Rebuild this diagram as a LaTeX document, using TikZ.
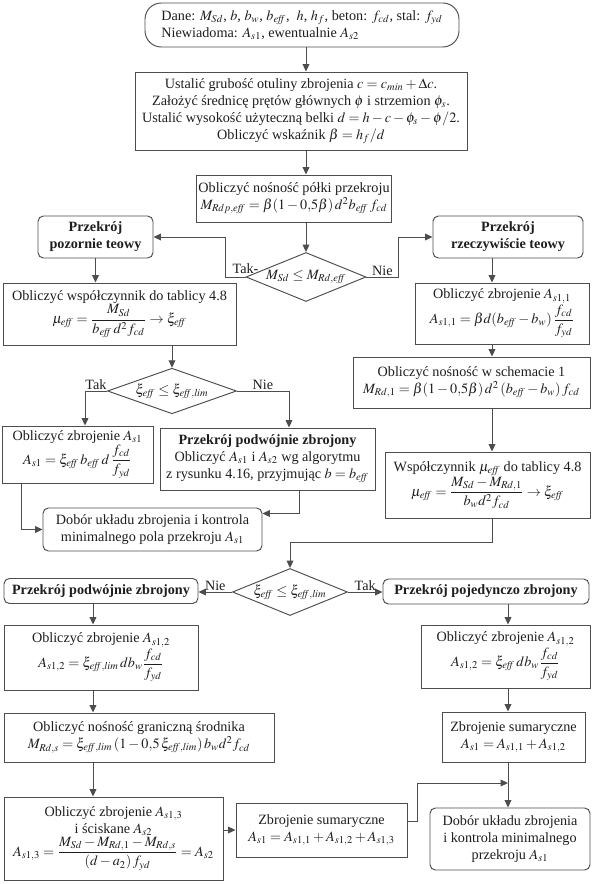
\documentclass[tikz,border=0pt]{standalone}
\usepackage{amsmath}
\usepackage{mathptmx}
\usepackage{fontspec}
\setmainfont{Liberation Serif}
\usepackage{xcolor}
\usepackage{tikz}
\usetikzlibrary{positioning, arrows.meta, shapes.geometric, calc}
\definecolor{linegray}{HTML}{4D4D4D}
\definecolor{textgray}{HTML}{1E1E1E}
\newcommand{\pxu}{0.026cm}
\newcommand{\eff}{\mathit{eff}}
\newcommand{\lm}{\mathit{lim}}

\tikzset{
    box/.style={draw=linegray, line width=0.7pt, fill=white, align=center, inner sep=1pt,
                text=textgray, font=\fontsize{10.5}{12.5}\selectfont},
    rbox/.style={box, rounded corners=4pt},
    cond/.style={box, diamond, aspect=2.4, inner sep=0pt},
    wh/.style 2 args={minimum width=#1*\pxu, minimum height=#2*\pxu},
    lbl/.style={text=textgray, font=\fontsize{10.5}{12.5}\selectfont, inner sep=1pt},
    link/.style={draw=linegray, line width=0.7pt},
    arr/.style={link, -{Triangle[length=5.5pt, width=5pt]}}
}

\begin{document}
\begin{tikzpicture}[x=\pxu, y=-\pxu]
    \fill[white] (0,0) rectangle (592,884);
    \useasboundingbox (0,0) rectangle (592,884);

    \coordinate (spine) at (306,0);
    \coordinate (rcol) at (492,0);
    \coordinate (lcol) at (93,0);
    \coordinate (rcol2) at (508,0);
    \coordinate (merge) at (508,783);

    \node[rbox, rounded corners=12pt, align=left, wh={314}{44}] (start) at (302,25) {%
      Dane: $M_{Sd}$, $b$, $b_w$, $b_{\eff}$, \ $h$, $h_f$, beton: $f_{cd}$, stal: $f_{yd}$\\
      Niewiadoma: $A_{s1}$, ewentualnie $A_{s2}$};
    \node[box, wh={332}{78}] (ustal) at (301,111) {%
      Ustalić grubość otuliny zbrojenia $c = c_{min} + \Delta c$.\\
      Założyć średnicę prętów głównych $\phi$ i strzemion $\phi_s$.\\
      Ustalić wysokość użyteczną belki $d = h - c - \phi_s - \phi/2$.\\
      Obliczyć wskaźnik $\beta = h_f/d$};
    \node[box, wh={195}{47}] (polka) at (294,198.5) {%
      Obliczyć nośność półki przekroju\\
      $M_{Rdp,\eff} = \beta(1 - 0{,}5\beta)\,d^2 b_{\eff}\, f_{cd}$};
    \node[cond, wh={120}{49}] (dec1) at (306,277) {$M_{Sd} \le M_{Rd,\eff}$};
    \node[rbox, wh={115}{42}] (pozornie) at (95.5,237) {\textbf{Przekrój}\\\textbf{pozornie teowy}};
    \node[rbox, wh={150}{42}] (rzecz) at (508,237) {\textbf{Przekrój}\\\textbf{rzeczywiście teowy}};

    \node[box, wh={233}{62}] (wspol1) at (119.5,314) {%
      Obliczyć współczynnik do tablicy 4.8\\
      $\mu_{\eff} = \dfrac{M_{Sd}}{b_{\eff}\,d^2 f_{cd}} \to \xi_{\eff}$};
    \node[box, wh={174}{61}] (zbr11) at (502,313.5) {%
      Obliczyć zbrojenie $A_{s1,1}$\\
      $A_{s1,1} = \beta d(b_{\eff} - b_w)\,\dfrac{f_{cd}}{f_{yd}}$};
    \node[cond, wh={129}{42}] (dec2) at (172,391) {$\xi_{\eff} \le \xi_{\eff,\lm}$};
    \node[box, wh={237}{51}] (nosn1) at (471.5,382.5) {%
      Obliczyć nośność w schemacie 1\\
      $M_{Rd,1} = \beta(1 - 0{,}5\beta)\,d^2\,(b_{\eff} - b_w)\,f_{cd}$};
    \node[box, wh={151}{57}] (as1) at (77.5,454.5) {%
      Obliczyć zbrojenie $A_{s1}$\\
      $A_{s1} = \xi_{\eff}\, b_{\eff}\, d\,\dfrac{f_{cd}}{f_{yd}}$};
    \node[box, wh={215}{62}] (podw1) at (267.5,459) {%
      \textbf{Przekrój podwójnie zbrojony}\\
      Obliczyć $A_{s1}$ i $A_{s2}$ wg algorytmu\\
      z rysunku 4.16, przyjmując $b = b_{\eff}$};
    \node[box, wh={205}{66}] (wspol2) at (487.5,485) {%
      Współczynnik $\mu_{\eff}$ do tablicy 4.8\\
      $\mu_{\eff} = \dfrac{M_{Sd} - M_{Rd,1}}{b_w d^2 f_{cd}} \to \xi_{\eff}$};
    \node[rbox, wh={219}{43}] (dobor1) at (152.5,529.5) {%
      Dobór układu zbrojenia i kontrola\\
      minimalnego pola przekroju $A_{s1}$};

    \node[cond, wh={115}{47}] (dec3) at (290,592) {$\xi_{\eff} \le \xi_{\eff,\lm}$};
    \node[rbox, wh={194}{25}] (podw2) at (101,591) {\textbf{Przekrój podwójnie zbrojony}};
    \node[rbox, wh={206}{25}] (pojed) at (486,591.5) {\textbf{Przekrój pojedynczo zbrojony}};
    \node[box, wh={194}{65}] (as12L) at (101,657.5) {%
      Obliczyć zbrojenie $A_{s1,2}$\\
      $A_{s1,2} = \xi_{\eff,\lm}\, db_w \dfrac{f_{cd}}{f_{yd}}$};
    \node[box, wh={169}{63}] (as12R) at (505.5,656.5) {%
      Obliczyć zbrojenie $A_{s1,2}$\\
      $A_{s1,2} = \xi_{\eff}\, db_w \dfrac{f_{cd}}{f_{yd}}$};
    \node[box, wh={270}{49}] (mrds) at (139,737.5) {%
      Obliczyć nośność graniczną środnika\\
      $M_{Rd,s} = \xi_{\eff,\lm}\,(1 - 0{,}5\,\xi_{\eff,\lm})\,b_w d^2 f_{cd}$};
    \node[box, wh={143}{50}] (sum2) at (513.5,737) {%
      Zbrojenie sumaryczne\\
      $A_{s1} = A_{s1,1} + A_{s1,2}$};
    \node[box, wh={219}{83}] (as13) at (113.5,838.5) {%
      Obliczyć zbrojenie $A_{s1,3}$\\
      i ściskane $A_{s2}$\\
      $A_{s1,3} = \dfrac{M_{Sd} - M_{Rd,1} - M_{Rd,s}}{(d - a_2)\, f_{yd}} = A_{s2}$};
    \node[box, wh={171}{54}] (sum3) at (321.5,830) {%
      Zbrojenie sumaryczne\\
      $A_{s1} = A_{s1,1} + A_{s1,2} + A_{s1,3}$};
    \node[rbox, wh={160}{62}] (dobor2) at (510,839) {%
      Dobór układu zbrojenia\\
      i kontrola minimalnego\\
      przekroju $A_{s1}$};

    \draw[arr] (start.south -| spine) -- (ustal.north -| spine);
    \draw[arr] (ustal.south -| spine) -- (polka.north -| spine);
    \draw[arr] (polka.south -| spine) -- (dec1.north);
    \draw[arr] (dec1.west) -- ++(-20,0) |- (pozornie.east);
    \node[lbl, anchor=south] (tak1) at ($(dec1.west)+(0,-2)$) {Tak-};
    \draw[arr] (dec1.east) -- node[lbl, above] (nie1) {Nie} ++(32,0) |- (rzecz.west);

    \draw[arr] (pozornie.south) -- (pozornie.south |- wspol1.north);
    \draw[arr] (rzecz.south -| rcol) -- (zbr11.north -| rcol);
    \draw[arr] (dec2.north |- wspol1.south) -- (dec2.north);
    \draw[arr] (zbr11.south -| rcol) -- (nosn1.north -| rcol);
    \draw[arr] (dec2.west) -- node[lbl, above] (tak2) {Tak} ++(-22,0) coordinate (takc) -- (takc |- as1.north);
    \draw[arr] (dec2.east) -- node[lbl, above] (nie2) {Nie} ++(52,0) coordinate (niec) -- (niec |- podw1.north);
    \draw[arr] (nosn1.south -| rcol) -- (wspol2.north -| rcol);
    \draw[arr] ($(as1.south west)+(20,0)$) |- (dobor1.west);
    \draw[arr] ($(podw1.south)+(32,0)$) |- ($(dobor1.east)+(0,-16)$);
    \draw[arr] (wspol2.south -| rcol) -- ++(0,24) -| (dec3.north);

    \draw[arr] (dec3.west) -- node[lbl, above] (nie3) {Nie} (dec3.west -| podw2.east);
    \draw[arr] (dec3.east) -- node[lbl, above] (tak3) {Tak} (dec3.east -| pojed.west);
    \draw[arr] (podw2.south -| lcol) -- (as12L.north -| lcol);
    \draw[arr] (as12L.south -| lcol) -- (mrds.north -| lcol);
    \draw[arr] (mrds.south -| lcol) -- (as13.north -| lcol);
    \draw[arr] (sum3.west -| as13.east) -- (sum3.west);
    \draw[arr] (pojed.south -| rcol2) -- (as12R.north -| rcol2);
    \draw[arr] (as12R.south -| rcol2) -- (sum2.north -| rcol2);
    \draw[arr] (sum2.south -| rcol2) -- (dobor2.north -| rcol2);
    \draw[arr] ($(sum3.east)+(0,-9)$) -- ++(10,0) |- (merge);
  \end{tikzpicture}
\end{document}
